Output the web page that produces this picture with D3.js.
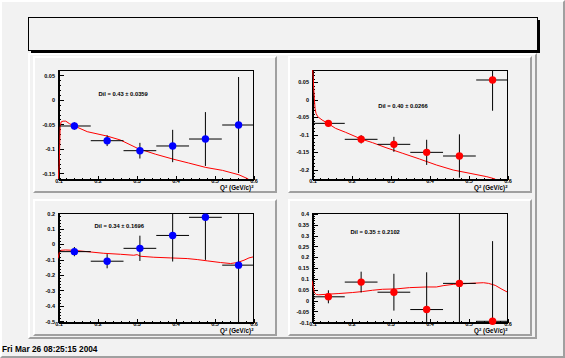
<!DOCTYPE html>
<html><head><meta charset="utf-8">
<script src="https://cdn.jsdelivr.net/npm/d3@7"></script>
<style>html,body{margin:0;padding:0;background:#f2f2f2;} svg{display:block;}</style>
</head><body>
<svg id="c" width="565" height="358"></svg>
<script>
// ---------------- data ----------------
const xCenters = [0.142, 0.226, 0.310, 0.394, 0.478, 0.563];
const xErr     = [0.042, 0.042, 0.042, 0.042, 0.042, 0.042];
const xTicks   = [0.1, 0.2, 0.3, 0.4, 0.5, 0.6];
const xTickLabels = ["0.1", "0.2", "0.3", "0.4", "0.5", "0.6"];

const tlY   = [-0.0544, -0.0844, -0.1048, -0.0952, -0.0810, -0.0524];
const tlErr = [0.0075, 0.011, 0.016, 0.033, 0.055, 0.098];
const trY   = [-0.0693, -0.1150, -0.1294, -0.1523, -0.1628, 0.0548];
const trErr = [0.0095, 0.012, 0.0215, 0.036, 0.062, 0.088];
const blY   = [-0.0514, -0.1135, -0.030, 0.0535, 0.171, -0.139];
const blErr = [0.030, 0.046, 0.082, 0.169, 0.276, 0.45];
const brY   = [0.0151, 0.083, 0.0363, -0.0438, 0.077, -0.098];
const brErr = [0.030, 0.048, 0.085, 0.172, 0.33, 0.37];

const tlYTicks = [-0.15, -0.1, -0.05, 0, 0.05];
const tlYLabels = ["-0.15", "-0.1", "-0.05", "0", "0.05"];
const trYTicks = [-0.2, -0.15, -0.1, -0.05, 0, 0.05];
const trYLabels = ["-0.2", "-0.15", "-0.1", "-0.05", "0", "0.05"];
const blYTicks = [-0.5, -0.4, -0.3, -0.2, -0.1, 0, 0.1, 0.2];
const blYLabels = ["-0.5", "-0.4", "-0.3", "-0.2", "-0.1", "0", "0.1", "0.2"];
const brYTicks = [-0.1, -0.05, 0, 0.05, 0.1, 0.15, 0.2, 0.25, 0.3, 0.35, 0.4];
const brYLabels = ["-0.1", "-0.05", "0", "0.05", "0.1", "0.15", "0.2", "0.25", "0.3", "0.35", "0.4"];

const tlCurve = [[0.1005,-0.1626],[0.103,-0.135],[0.1045,-0.09],[0.1055,-0.056],[0.108,-0.046],[0.113,-0.0445],[0.12,-0.0445],[0.13,-0.05],[0.141,-0.054],[0.175,-0.066],[0.226,-0.075],[0.26,-0.083],[0.304,-0.1],[0.35,-0.112],[0.395,-0.122],[0.435,-0.130],[0.479,-0.139],[0.522,-0.145],[0.564,-0.154],[0.588,-0.1626]];
const trCurve = [[0.1017,0.0834],[0.1034,0.0595],[0.1043,0.031],[0.106,0.0023],[0.1078,-0.0263],[0.1103,-0.0406],[0.1147,-0.0502],[0.1259,-0.0597],[0.1405,-0.0693],[0.1603,-0.0836],[0.1862,-0.095],[0.2259,-0.1141],[0.2552,-0.1246],[0.2897,-0.1389],[0.3328,-0.1552],[0.3759,-0.1714],[0.419,-0.1885],[0.462,-0.2029],[0.5052,-0.2124],[0.5483,-0.222],[0.5698,-0.2286]];
const blCurve = [[0.1,-0.0964],[0.1034,-0.0578],[0.1077,-0.0428],[0.1188,-0.0407],[0.1402,-0.0428],[0.1745,-0.0514],[0.2173,-0.0621],[0.2601,-0.0685],[0.2943,-0.0749],[0.3029,-0.0707],[0.3115,-0.0814],[0.3457,-0.0878],[0.3885,-0.0921],[0.4313,-0.0964],[0.457,-0.1028],[0.4827,-0.1113],[0.5169,-0.1221],[0.5426,-0.1285],[0.5598,-0.1221],[0.5769,-0.1071],[0.5897,-0.0921],[0.6,-0.0857]];
const brCurve = [[0.1,0.0906],[0.1026,0.065],[0.106,0.0347],[0.1112,0.0257],[0.1172,0.0242],[0.1405,0.0272],[0.169,0.0302],[0.2034,0.0347],[0.2293,0.0393],[0.2552,0.0453],[0.281,0.0498],[0.3155,0.0514],[0.35,0.0574],[0.3931,0.0604],[0.419,0.0604],[0.4362,0.0665],[0.4621,0.0725],[0.5052,0.077],[0.5397,0.0801],[0.5526,0.077],[0.5698,0.068],[0.5871,0.0498],[0.6,0.0378]];

const dilTexts = ["Dil = 0.43 \u00b1 0.0359", "Dil = 0.40 \u00b1 0.0266", "Dil = 0.34 \u00b1 0.1696", "Dil = 0.35 \u00b1 0.2102"];
const dilPos = [[0.2036, 0.0065], [0.270, -0.0257], [0.1934, 0.100], [0.1985, 0.304]];
const footer = "Fri Mar 26 08:25:15 2004";

// ---------------- layout ----------------
const W = 565, H = 358;
const BG = "#f2f2f2", LIGHT = "#ffffff", DARK = "#a0a0a0";
const svg = d3.select("#c");
svg.append("rect").attr("width", W).attr("height", H).attr("fill", BG);

function bevel(x0, y0, x1, y1, bs) {
  svg.append("polygon")
    .attr("points", [[x0,y1],[x0,y0],[x1,y0],[x1-bs,y0+bs],[x0+bs,y0+bs],[x0+bs,y1-bs]].join(" "))
    .attr("fill", LIGHT);
  svg.append("polygon")
    .attr("points", [[x1,y0],[x1,y1],[x0,y1],[x0+bs,y1-bs],[x1-bs,y1-bs],[x1-bs,y0+bs]].join(" "))
    .attr("fill", DARK);
}

// canvas border
bevel(0, 0, W, H, 2);

// title box with shadow
const tb = {x0: 28, y0: 17, x1: 537, y1: 50};
svg.append("rect").attr("x", tb.x0 + 3).attr("y", tb.y0 + 3)
  .attr("width", tb.x1 - tb.x0).attr("height", tb.y1 - tb.y0).attr("fill", "#000");
svg.append("rect").attr("x", tb.x0 + 0.5).attr("y", tb.y0 + 0.5)
  .attr("width", tb.x1 - tb.x0).attr("height", tb.y1 - tb.y0)
  .attr("fill", BG).attr("stroke", "#000").attr("stroke-width", 1);

// outer pad
const op = {x0: 28, y0: 53, x1: 537, y1: 339};
bevel(op.x0, op.y0, op.x1, op.y1, 2);
const opW = op.x1 - op.x0, opH = op.y1 - op.y0;

const panelData = [
  {y: tlY, e: tlErr, dom: [-0.1626, 0.0599], ticks: tlYTicks, labels: tlYLabels, minor: 0.01, curve: tlCurve, color: "#0000ff"},
  {y: trY, e: trErr, dom: [-0.2286, 0.0834], ticks: trYTicks, labels: trYLabels, minor: 0.01, curve: trCurve, color: "#ff0000"},
  {y: blY, e: blErr, dom: [-0.5075, 0.199], ticks: blYTicks, labels: blYLabels, minor: 0.02, curve: blCurve, color: "#0000ff"},
  {y: brY, e: brErr, dom: [-0.1012, 0.4018], ticks: brYTicks, labels: brYLabels, minor: 0.01, curve: brCurve, color: "#ff0000"}
];

const FONT = "'Liberation Sans', Arial, Helvetica, sans-serif";

panelData.forEach((p, i) => {
  const col = i % 2, row = Math.floor(i / 2);
  const px0 = op.x0 + (0.01 + 0.5 * col) * opW;
  const py0 = op.y0 + (0.01 + 0.5 * row) * opH;
  const pw = 0.48 * opW, ph = 0.48 * opH;
  bevel(Math.round(px0), Math.round(py0), Math.round(px0 + pw), Math.round(py0 + ph), 2);

  const fx0 = Math.round(px0 + 0.1 * pw), fx1 = Math.round(px0 + 0.9 * pw);
  const fy0 = Math.round(py0 + 0.1 * ph), fy1 = Math.round(py0 + 0.9 * ph);
  const x = d3.scaleLinear().domain([0.1, 0.6]).range([fx0, fx1]);
  const y = d3.scaleLinear().domain(p.dom).range([fy1, fy0]);

  const g = svg.append("g");
  const clipId = "clip" + i;
  g.append("clipPath").attr("id", clipId).append("rect")
    .attr("x", fx0).attr("y", fy0).attr("width", fx1 - fx0).attr("height", fy1 - fy0);

  // frame
  g.append("rect").attr("x", fx0 + 0.5).attr("y", fy0 + 0.5)
    .attr("width", fx1 - fx0).attr("height", fy1 - fy0)
    .attr("fill", "none").attr("stroke", "#000").attr("stroke-width", 1);

  const fw = fx1 - fx0, fh = fy1 - fy0;
  // y axis (ticks to the right, labels left)
  const yMinor = d3.range(Math.ceil(p.dom[0] / p.minor - 1e-6), Math.floor(p.dom[1] / p.minor + 1e-6) + 1).map(k => k * p.minor);
  const yMinAx = g.append("g").attr("transform", `translate(${fx0 + 0.5},0.5)`)
    .call(d3.axisLeft(y).tickValues(yMinor).tickSizeInner(-0.015 * fw).tickSizeOuter(0).tickFormat(""));
  const yAx = g.append("g").attr("transform", `translate(${fx0 + 0.5},0.5)`)
    .call(d3.axisLeft(y).tickValues(p.ticks).tickSizeInner(-0.03 * fw).tickSizeOuter(0).tickPadding(3.5)
      .tickFormat((d, k) => p.labels[k]));
  // x axis
  const xMinorV = d3.range(5, 31).map(k => k * 0.02);
  const xMinAx = g.append("g").attr("transform", `translate(0.5,${fy1 + 0.5})`)
    .call(d3.axisBottom(x).tickValues(xMinorV).tickSizeInner(-0.015 * fh).tickSizeOuter(0).tickFormat(""));
  const xAx = g.append("g").attr("transform", `translate(0.5,${fy1 + 0.5})`)
    .call(d3.axisBottom(x).tickValues(xTicks).tickSizeInner(-0.03 * fh).tickSizeOuter(0).tickPadding(0)
      .tickFormat((d, k) => xTickLabels[k]));
  [yMinAx, yAx, xMinAx, xAx].forEach(a => {
    a.attr("font-family", FONT).attr("font-size", 5.5).attr("font-weight", "bold");
    a.selectAll("line").attr("stroke", "#000").attr("shape-rendering", "crispEdges");
    a.selectAll("path").attr("stroke", "#000").attr("shape-rendering", "crispEdges");
    a.selectAll("text").attr("fill", "#000");
  });

  // axis title
  const t = g.append("text").attr("x", fx1 + 0.5).attr("y", fy1 + 11)
    .attr("text-anchor", "end").attr("font-family", FONT).attr("font-size", 6.3).attr("font-weight", "bold");
  t.append("tspan").text("Q");
  t.append("tspan").attr("font-size", 4.2).attr("dy", -2.5).text("2");
  t.append("tspan").attr("dy", 2.5).text(" (GeV/c)");
  t.append("tspan").attr("font-size", 4.2).attr("dy", -2.5).text("2");

  // curve
  g.append("path").datum(p.curve)
    .attr("clip-path", `url(#${clipId})`)
    .attr("d", d3.line().x(d => x(d[0])).y(d => y(d[1])))
    .attr("fill", "none").attr("stroke", "#ff0000").attr("stroke-width", 1);

  // error bars
  const eg = g.append("g").attr("clip-path", `url(#${clipId})`).attr("stroke", "#000").attr("stroke-width", 1);
  xCenters.forEach((xc, k) => {
    eg.append("line").attr("x1", x(xc - xErr[k])).attr("x2", x(xc + xErr[k]))
      .attr("y1", y(p.y[k]) ).attr("y2", y(p.y[k]));
    eg.append("line").attr("x1", x(xc)).attr("x2", x(xc))
      .attr("y1", y(p.y[k] - p.e[k])).attr("y2", y(p.y[k] + p.e[k]));
  });
  // markers
  g.append("g").selectAll("circle").data(xCenters).join("circle")
    .attr("cx", d => x(d)).attr("cy", (d, k) => y(p.y[k])).attr("r", 3.7)
    .attr("fill", p.color);

  // Dil text
  g.append("text").attr("x", x(dilPos[i][0])).attr("y", y(dilPos[i][1]))
    .attr("font-family", FONT).attr("font-size", 5.8).attr("font-weight", "bold")
    .text(dilTexts[i]);
});

// footer
svg.append("text").attr("x", 2).attr("y", 352)
  .attr("font-family", FONT).attr("font-size", 8.3).attr("font-weight", "bold").attr("fill", "#000")
  .text(footer);
</script>
</body></html>
